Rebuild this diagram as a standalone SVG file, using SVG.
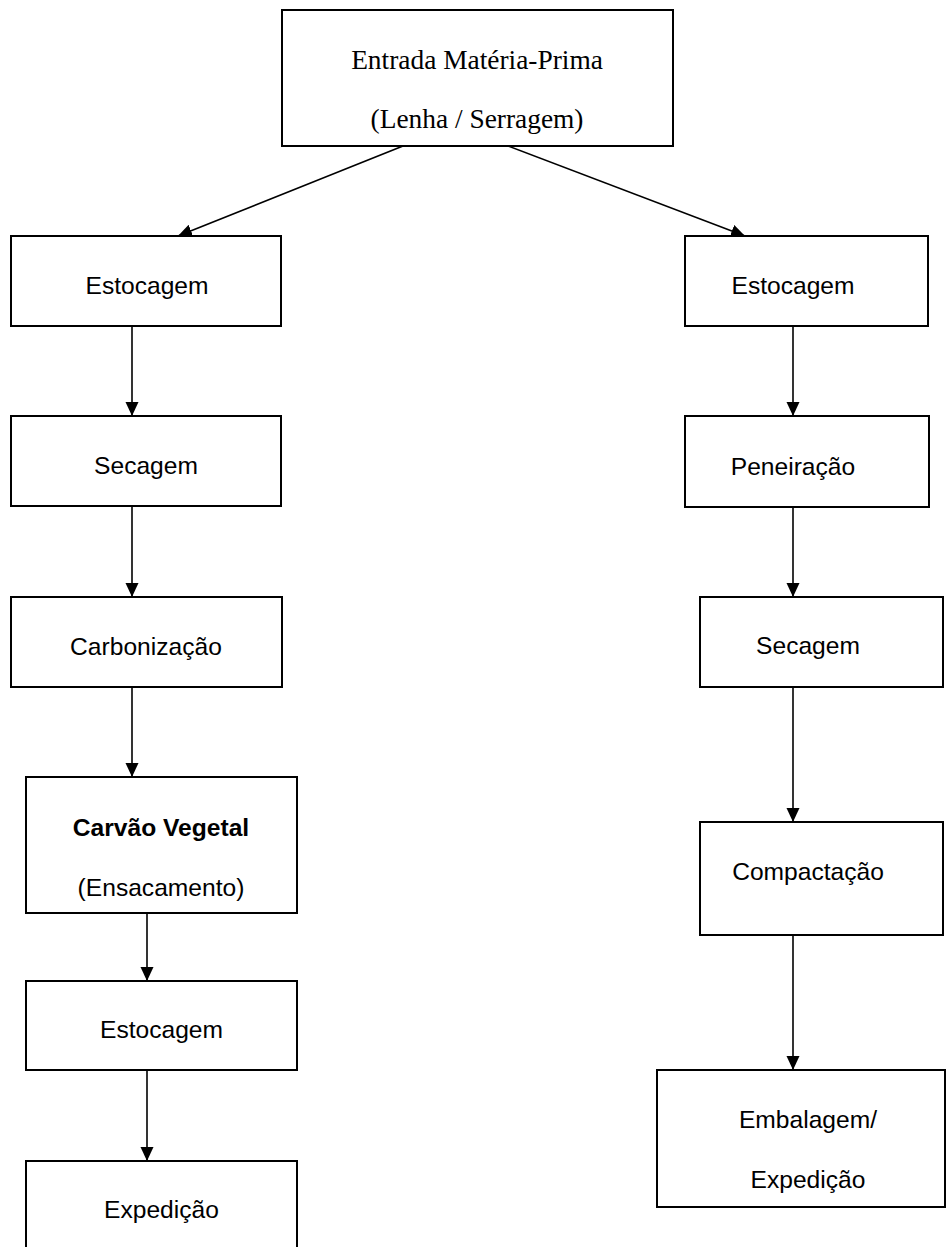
<svg xmlns="http://www.w3.org/2000/svg" width="946" height="1247" viewBox="0 0 946 1247">
<style>
.box{fill:#fff;stroke:#000;stroke-width:2}
.t{font-family:"Liberation Sans",Arial,sans-serif;font-size:24.6px;fill:#000;text-anchor:middle}
.b{font-weight:bold}
.s{font-family:"Liberation Serif","Times New Roman",serif;font-size:27.4px;fill:#000;text-anchor:middle}
.c{stroke:#000;stroke-width:1.6;fill:none;marker-end:url(#ah)}
</style>
<defs>
<marker id="ah" markerUnits="userSpaceOnUse" markerWidth="14" markerHeight="14" refX="14" refY="7" orient="auto" viewBox="0 0 14 14">
<path d="M0,0.5 L14,7 L0,13.5 z" fill="#000"/>
</marker>
</defs>
<rect width="946" height="1247" fill="#fff"/>
<g id="connectors">
<line class="c" x1="403" y1="146" x2="178" y2="236"/>
<line class="c" x1="508" y1="146" x2="745" y2="236"/>
<line class="c" x1="132" y1="326" x2="132" y2="416"/>
<line class="c" x1="132" y1="506" x2="132" y2="597"/>
<line class="c" x1="132" y1="687" x2="132" y2="777"/>
<line class="c" x1="147" y1="913" x2="147" y2="981"/>
<line class="c" x1="147" y1="1070" x2="147" y2="1161"/>
<line class="c" x1="793" y1="326" x2="793" y2="416"/>
<line class="c" x1="793" y1="507" x2="793" y2="597"/>
<line class="c" x1="793" y1="687" x2="793" y2="822"/>
<line class="c" x1="793" y1="935" x2="793" y2="1070"/>
</g>
<g id="entrada">
<rect class="box" x="282" y="10" width="391" height="136"/>
<text class="s" x="477" y="69">Entrada Matéria-Prima</text>
<text class="s" x="477" y="128">(Lenha / Serragem)</text>
</g>
<g id="estocagem-l1">
<rect class="box" x="11" y="236" width="270" height="90"/>
<text class="t" x="147" y="294">Estocagem</text>
</g>
<g id="secagem-l">
<rect class="box" x="11" y="416" width="270" height="90"/>
<text class="t" x="146" y="474">Secagem</text>
</g>
<g id="carbonizacao">
<rect class="box" x="11" y="597" width="271" height="90"/>
<text class="t" x="146" y="655">Carbonização</text>
</g>
<g id="carvao">
<rect class="box" x="26" y="777" width="271" height="136"/>
<text class="t b" x="161" y="836">Carvão Vegetal</text>
<text class="t" x="161" y="896">(Ensacamento)</text>
</g>
<g id="estocagem-l2">
<rect class="box" x="26" y="981" width="271" height="89"/>
<text class="t" x="161.5" y="1038">Estocagem</text>
</g>
<g id="expedicao-l">
<rect class="box" x="26" y="1161" width="271" height="110"/>
<text class="t" x="161.5" y="1218">Expedição</text>
</g>
<g id="estocagem-r">
<rect class="box" x="685" y="236" width="243" height="90"/>
<text class="t" x="793" y="294">Estocagem</text>
</g>
<g id="peneiracao">
<rect class="box" x="685" y="416" width="244" height="91"/>
<text class="t" x="793" y="475">Peneiração</text>
</g>
<g id="secagem-r">
<rect class="box" x="700" y="597" width="243" height="90"/>
<text class="t" x="808" y="654">Secagem</text>
</g>
<g id="compactacao">
<rect class="box" x="700" y="822" width="243" height="113"/>
<text class="t" x="808" y="880">Compactação</text>
</g>
<g id="embalagem">
<rect class="box" x="657" y="1070" width="288" height="137"/>
<text class="t" x="808" y="1128">Embalagem/</text>
<text class="t" x="808" y="1188">Expedição</text>
</g>
</svg>
